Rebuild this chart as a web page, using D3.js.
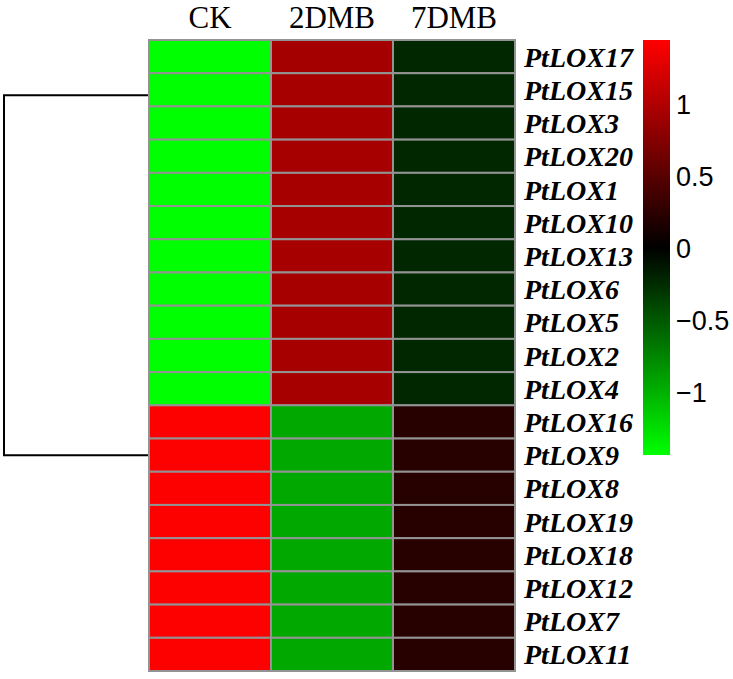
<!DOCTYPE html>
<html><head><meta charset="utf-8">
<script src="https://cdn.jsdelivr.net/npm/d3@7"></script>
<style>body{margin:0;background:#fff}svg{display:block}</style>
</head><body><div id="chart"></div>
<script>
const genes = ["PtLOX17","PtLOX15","PtLOX3","PtLOX20","PtLOX1","PtLOX10","PtLOX13","PtLOX6","PtLOX5","PtLOX2","PtLOX4",
  "PtLOX16","PtLOX9","PtLOX8","PtLOX19","PtLOX18","PtLOX12","PtLOX7","PtLOX11"];
const samples = ["CK","2DMB","7DMB"];
const valCK   = [-1.44,-1.44,-1.44,-1.44,-1.44,-1.44,-1.44,-1.44,-1.44,-1.44,-1.44, 1.44,1.44,1.44,1.44,1.44,1.44,1.44,1.44];
const val2DMB = [0.93,0.95,0.95,0.95,0.95,0.95,0.95,0.95,0.95,0.95,0.95, -0.95,-0.95,-0.95,-0.95,-0.95,-0.95,-0.95,-0.95];
const val7DMB = [-0.22,-0.22,-0.22,-0.22,-0.22,-0.22,-0.22,-0.22,-0.22,-0.22,-0.22, 0.22,0.22,0.22,0.22,0.22,0.22,0.22,0.22];
const legendTicks = [1,0.5,0,-0.5,-1];
const colorDomain = [-1.44,0,1.45];
// top-level dendrogram: positions of the two child clusters (row-index units)
const dendroNodes = [1.16, 12.0];

(function(){
const W=733,H=679;
const svg=d3.select("#chart").append("svg").attr("width",W).attr("height",H);
const left=149,right=515,topY=40,bottomY=671;
const x=d3.scaleBand().domain(samples).range([left,right]);
const y=d3.scaleBand().domain(genes).range([topY,bottomY]);
const rowPos=d3.scaleLinear().domain([0,genes.length]).range([topY,bottomY]);
const color=d3.scaleLinear().domain(colorDomain).range(["#00ff00","#000000","#ff0000"]).clamp(true);

const cells=[];
genes.forEach((g,i)=>{[valCK,val2DMB,val7DMB].forEach((arr,j)=>cells.push({g,s:samples[j],v:arr[i]}));});
svg.append("g").selectAll("rect").data(cells).join("rect")
  .attr("x",d=>x(d.s)).attr("y",d=>y(d.g)).attr("width",x.bandwidth()).attr("height",y.bandwidth())
  .attr("fill",d=>color(d.v)).attr("stroke","#939393").attr("stroke-width",2);

svg.append("g").selectAll("text").data(samples).join("text")
  .attr("x",d=>x(d)+x.bandwidth()/2).attr("y",27.5).attr("text-anchor","middle")
  .attr("font-family","'Liberation Serif','Times New Roman',serif").attr("font-size",31).text(d=>d);

svg.append("g").selectAll("text").data(genes).join("text")
  .attr("x",right+9).attr("y",d=>y(d)+y.bandwidth()/2).attr("dy","0.36em")
  .attr("font-family","'Liberation Serif','Times New Roman',serif").attr("font-style","italic")
  .attr("font-weight","bold").attr("font-size",28).text(d=>d);

const dx=4;
const ys=dendroNodes.map(r=>rowPos(r+0.5));
svg.append("path").attr("fill","none").attr("stroke","#000").attr("stroke-width",2)
  .attr("d",`M${left-1},${ys[0]}H${dx}V${ys[1]}H${left-1}`);

const ly=d3.scaleLinear().domain([colorDomain[0],colorDomain[2]]).range([455,40]);
const grad=svg.append("defs").append("linearGradient").attr("id","cb").attr("x1",0).attr("y1",1).attr("x2",0).attr("y2",0);
d3.range(0,1.0001,0.05).forEach(t=>{
  const v=colorDomain[0]+t*(colorDomain[2]-colorDomain[0]);
  grad.append("stop").attr("offset",t).attr("stop-color",color(v));
});
svg.append("rect").attr("x",643).attr("y",ly(colorDomain[2])).attr("width",27)
  .attr("height",ly(colorDomain[0])-ly(colorDomain[2])).attr("fill","url(#cb)");
svg.append("g").selectAll("text").data(legendTicks).join("text")
  .attr("x",676).attr("y",d=>ly(d)).attr("dy","0.36em")
  .attr("font-family","'Liberation Sans',Arial,sans-serif").attr("font-size",27)
  .text(d=>d<0?"\u2212"+Math.abs(d):String(d));
})();
</script></body></html>
